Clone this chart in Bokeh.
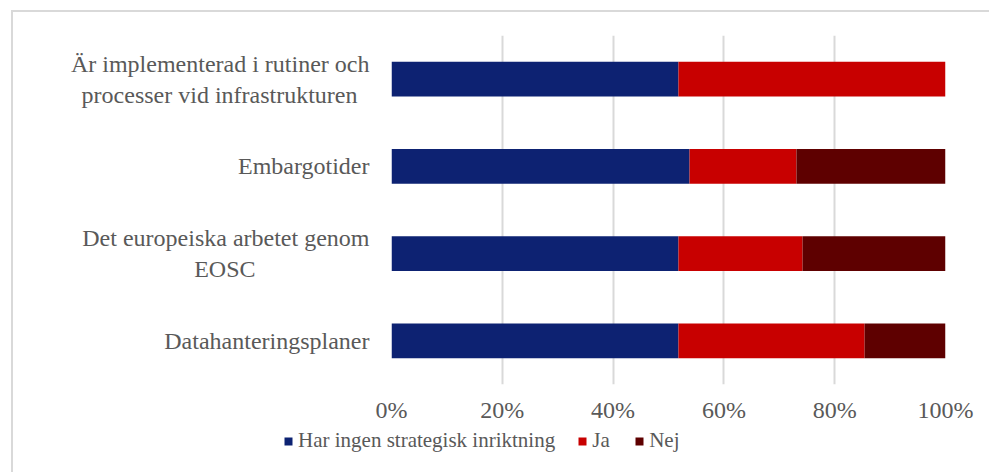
from bokeh.plotting import figure
from bokeh.models import (ColumnDataSource, FactorRange, NumeralTickFormatter, Legend,
                          LegendItem, FixedTicker, Range1d)
from bokeh.embed import file_html
from bokeh.resources import INLINE

categories = ["Är implementerad i rutiner och\nprocesser vid infrastrukturen",
              "Embargotider",
              "Det europeiska arbetet genom\nEOSC",
              "Datahanteringsplaner"]
series_names = ["Har ingen strategisk inriktning", "Ja", "Nej"]
har_ingen = [0.518, 0.538, 0.518, 0.518]
ja = [0.482, 0.193, 0.224, 0.336]
nej = [0.0, 0.269, 0.258, 0.146]
colors = ["#0d2272", "#c80000", "#5e0000"]
x_ticks = [0, 0.2, 0.4, 0.6, 0.8, 1.0]

# trailing no-break spaces centre the short second line under the first (ZWSP stops trimming)
NB = "\u00a0"
ZW = "\u200b"
pad = [2, 0, 19, 0]
y_factors = [c + (NB * n + ZW if n else "") for c, n in zip(categories, pad)]

FONT = "Liberation Serif"
FS = "24px"
GREY = "#595959"
EDGE = "#d9d9d9"

src = ColumnDataSource(dict(cat=y_factors, har=har_ingen, ja=ja, nej=nej))

p = figure(width=978, height=413, output_backend="svg", toolbar_location=None,
           y_range=FactorRange(*y_factors[::-1]), x_range=(0, 1),
           min_border_left=378, min_border_right=46, min_border_top=23, min_border_bottom=40)
p.margin = (12, 0, 0, 13)
p.styles = {"box-shadow": f"-2px -2px 0 0 {EDGE}, -2px 0 0 0 {EDGE}"}

p.hbar_stack(["har", "ja", "nej"], y="cat", height=0.4, source=src,
             color=colors, line_color=None)

p.outline_line_color = None
p.ygrid.grid_line_color = None
p.xgrid.grid_line_color = EDGE
p.xgrid.grid_line_width = 2
p.xaxis.ticker = FixedTicker(ticks=x_ticks)
p.xaxis.formatter = NumeralTickFormatter(format="0%")

for ax in (p.xaxis[0], p.yaxis[0]):
    ax.axis_line_color = None
    ax.major_tick_line_color = None
    ax.minor_tick_line_color = None
    ax.major_label_text_font = FONT
    ax.major_label_text_font_size = FS
    ax.major_label_text_color = GREY
p.xaxis.major_label_standoff = 6
p.yaxis.major_label_standoff = 16

# legend strip: same series with hidden bars, so only the legend shows
p2 = figure(width=978, height=47, output_backend="svg", toolbar_location=None,
            y_range=FactorRange(*y_factors[::-1]), x_range=Range1d(0, 1),
            x_axis_type=None, y_axis_type=None,
            min_border_left=0, min_border_right=0, min_border_top=0, min_border_bottom=0)
p2.margin = (0, 0, 0, 13)
p2.styles = {"box-shadow": f"-2px 0 0 0 {EDGE}"}
p2.outline_line_color = None
p2.grid.visible = False
rs2 = p2.hbar_stack(["har", "ja", "nej"], y="cat", height=0.4, source=src,
                    color=colors, line_color=None)
for r in rs2:
    r.visible = False

legend = Legend(items=[LegendItem(label=n, renderers=[r]) for n, r in zip(series_names, rs2)],
                orientation="horizontal", location=(270, 19),
                label_text_font=FONT, label_text_font_size="21px",
                label_text_color=GREY, glyph_width=10, glyph_height=10,
                label_standoff=5, spacing=22, padding=0, margin=0,
                inactive_fill_alpha=0,
                border_line_color=None, background_fill_alpha=0)
p2.add_layout(legend, "center")

open("out.html", "w").write(file_html([p, p2], INLINE))
